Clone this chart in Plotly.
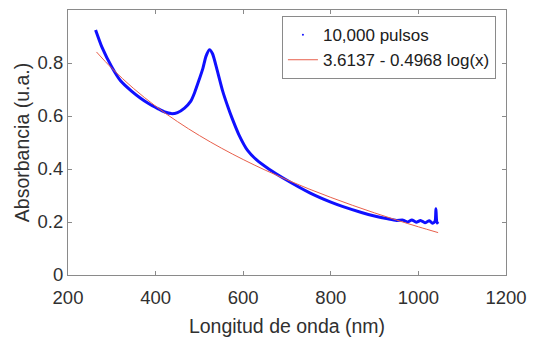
import plotly.graph_objects as go

wavelength = [263, 278, 300, 320, 345, 365, 384, 405, 421, 436, 450, 466, 480, 489,
              500, 508, 515, 523, 530, 541, 553, 565, 575, 590, 610, 630, 660, 692,
              752, 800, 828, 870, 902, 930, 950, 965, 975, 985, 995, 1005, 1015, 1025,
              1032, 1038, 1040, 1042, 1045]
absorbance = [0.925, 0.858, 0.785, 0.733, 0.694, 0.668, 0.647, 0.628, 0.615, 0.609,
              0.613, 0.630, 0.655, 0.688, 0.74, 0.78, 0.825, 0.85, 0.835, 0.77, 0.695,
              0.635, 0.59, 0.53, 0.47, 0.435, 0.398, 0.365, 0.31, 0.275, 0.258, 0.236,
              0.222, 0.212, 0.206, 0.207, 0.200, 0.208, 0.199, 0.206, 0.197, 0.205,
              0.195, 0.203, 0.25, 0.2, 0.193]

# Logarithmic fit  3.6137 - 0.4968 log(x), tabulated values
fit_x = [265, 300, 350, 400, 450, 500, 550, 600, 650, 700, 750, 800, 850, 900, 950,
         1000, 1045]
fit_y = [0.8417, 0.7801, 0.7035, 0.6371, 0.5787, 0.5263, 0.4789, 0.4357, 0.3959,
         0.3591, 0.3248, 0.2928, 0.2627, 0.2343, 0.2074, 0.1819, 0.1600]

legend_names = ["10,000 pulsos", "3.6137 - 0.4968 log(x)"]
x_ticks = [200, 400, 600, 800, 1000, 1200]
y_ticks = [0, 0.2, 0.4, 0.6, 0.8, 1]
y_tick_text = ["0", "0.2", "0.4", "0.6", "0.8", "1"]

fig = go.Figure()
fig.add_trace(go.Scatter(x=wavelength, y=absorbance, mode="lines",
                         line=dict(color="#1010ff", width=3, shape="spline", smoothing=0.6),
                         showlegend=False))
fig.add_trace(go.Scatter(x=[None], y=[None], mode="markers", name=legend_names[0],
                         marker=dict(color="#1010ff", size=2)))
fig.add_trace(go.Scatter(x=fit_x, y=fit_y, mode="lines", name=legend_names[1],
                         line=dict(color="#e8604c", width=1, shape="spline")))

axis_common = dict(showline=True, linecolor="#8a8a8a", linewidth=1, mirror="ticks",
                   ticks="inside", ticklen=4, tickcolor="#8a8a8a", showgrid=False,
                   zeroline=False, tickfont=dict(family="Arial", size=18.5, color="#303030"))

fig.update_layout(
    width=536, height=343,
    margin=dict(l=68, r=24, t=9, b=68),
    plot_bgcolor="white", paper_bgcolor="white",
    font=dict(family="Arial", color="#303030"),
    xaxis=dict(range=[200, 1200], tickvals=x_ticks, ticklabelstandoff=6,
               title=dict(text="Longitud de onda (nm)", font=dict(size=19.5), standoff=12),
               **axis_common),
    yaxis=dict(range=[0, 1], tickvals=y_ticks, ticktext=y_tick_text,
               title=dict(text="Absorbancia (u.a.)", font=dict(size=19.5), standoff=2),
               **axis_common),
    legend=dict(x=0.977, y=0.977, xanchor="right", yanchor="top",
                bgcolor="white", bordercolor="#8a8a8a", borderwidth=1,
                font=dict(family="Arial", size=17, color="#202020"),
                tracegroupgap=0, itemwidth=30),
)

fig.write_html("out.html")
